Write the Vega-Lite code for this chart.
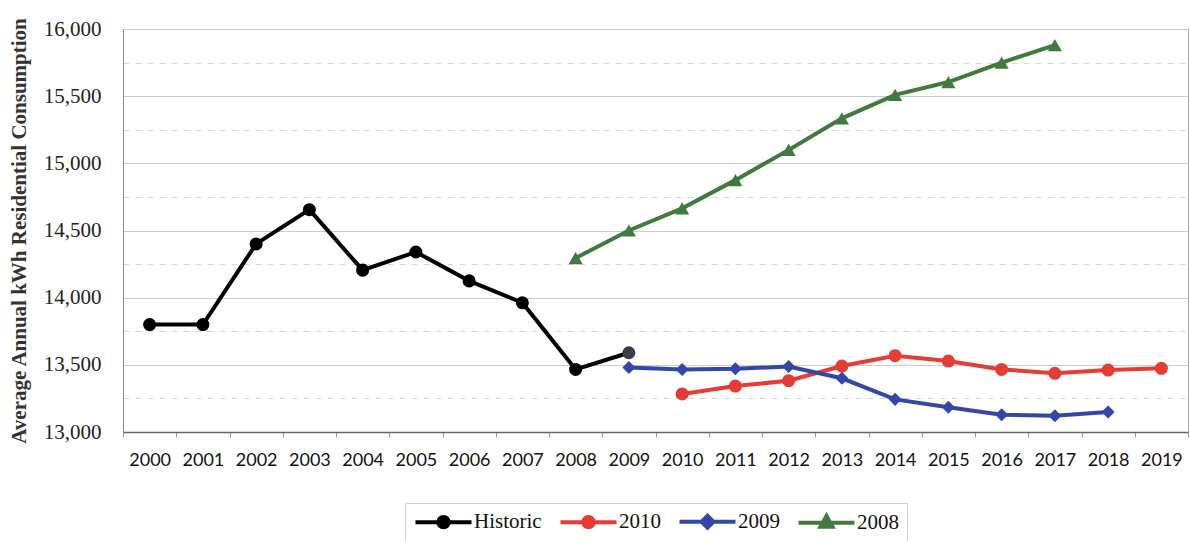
{
  "$schema": "https://vega.github.io/schema/vega-lite/v6.json",
  "width": 1065,
  "height": 403,
  "autosize": {"type": "none"},
  "padding": {"left": 123, "top": 29, "right": 2, "bottom": 109},
  "background": "white",
  "config": {
    "view": {"stroke": "#a8a8a8", "strokeWidth": 1},
    "font": "Liberation Serif"
  },
  "data": {
    "values": [
      {"series": "Historic", "year": 2000, "value": 13800},
      {"series": "Historic", "year": 2001, "value": 13800},
      {"series": "Historic", "year": 2002, "value": 14400},
      {"series": "Historic", "year": 2003, "value": 14655},
      {"series": "Historic", "year": 2004, "value": 14205},
      {"series": "Historic", "year": 2005, "value": 14340},
      {"series": "Historic", "year": 2006, "value": 14125},
      {"series": "Historic", "year": 2007, "value": 13962},
      {"series": "Historic", "year": 2008, "value": 13466},
      {"series": "Historic", "year": 2009, "value": 13590},
      {"series": "2010", "year": 2010, "value": 13283},
      {"series": "2010", "year": 2011, "value": 13342},
      {"series": "2010", "year": 2012, "value": 13382},
      {"series": "2010", "year": 2013, "value": 13491},
      {"series": "2010", "year": 2014, "value": 13568},
      {"series": "2010", "year": 2015, "value": 13528},
      {"series": "2010", "year": 2016, "value": 13466},
      {"series": "2010", "year": 2017, "value": 13437},
      {"series": "2010", "year": 2018, "value": 13461},
      {"series": "2010", "year": 2019, "value": 13474},
      {"series": "2009", "year": 2009, "value": 13480},
      {"series": "2009", "year": 2010, "value": 13466},
      {"series": "2009", "year": 2011, "value": 13471},
      {"series": "2009", "year": 2012, "value": 13487},
      {"series": "2009", "year": 2013, "value": 13400},
      {"series": "2009", "year": 2014, "value": 13243},
      {"series": "2009", "year": 2015, "value": 13184},
      {"series": "2009", "year": 2016, "value": 13129},
      {"series": "2009", "year": 2017, "value": 13121},
      {"series": "2009", "year": 2018, "value": 13149},
      {"series": "2008", "year": 2008, "value": 14295},
      {"series": "2008", "year": 2009, "value": 14500},
      {"series": "2008", "year": 2010, "value": 14665},
      {"series": "2008", "year": 2011, "value": 14875},
      {"series": "2008", "year": 2012, "value": 15100},
      {"series": "2008", "year": 2013, "value": 15335},
      {"series": "2008", "year": 2014, "value": 15510},
      {"series": "2008", "year": 2015, "value": 15605},
      {"series": "2008", "year": 2016, "value": 15750},
      {"series": "2008", "year": 2017, "value": 15880}
    ]
  },
  "encoding": {
    "x": {
      "field": "year",
      "type": "ordinal",
      "bandPosition": 0.5,
      "scale": {
        "type": "band",
        "domain": [2000, 2001, 2002, 2003, 2004, 2005, 2006, 2007, 2008, 2009, 2010, 2011, 2012, 2013, 2014, 2015, 2016, 2017, 2018, 2019],
        "paddingInner": 0,
        "paddingOuter": 0
      },
      "axis": {
        "title": null,
        "labelAngle": 0,
        "labelFont": "Lato",
        "labelFontSize": 18,
        "labelColor": "#111",
        "labelPadding": 14,
        "tickBand": "extent",
        "tickSize": 5,
        "tickColor": "#999",
        "domainColor": "#666",
        "domainWidth": 1.5,
        "grid": false
      }
    },
    "y": {
      "field": "value",
      "type": "quantitative",
      "scale": {"domain": [13000, 16000], "nice": false, "zero": false},
      "axis": {
        "title": "Average Annual kWh Residential Consumption",
        "titleFont": "Liberation Serif",
        "titleFontSize": 21,
        "titleFontWeight": "bold",
        "titleColor": "#333",
        "titlePadding": 14,
        "values": [13000, 13250, 13500, 13750, 14000, 14250, 14500, 14750, 15000, 15250, 15500, 15750, 16000],
        "format": ",.0f",
        "labelExpr": "datum.value % 500 === 0 ? datum.label : ''",
        "labelFont": "Liberation Serif",
        "labelFontSize": 21,
        "labelColor": "#222",
        "labelPadding": 22,
        "ticks": false,
        "domainColor": "#888",
        "grid": true,
        "gridColor": {"condition": {"test": "datum.value % 500 !== 0", "value": "#d6d6d6"}, "value": "#cccccc"},
        "gridDash": {"condition": {"test": "datum.value % 500 !== 0", "value": [6, 6]}, "value": []},
        "gridWidth": 1.2
      }
    }
  },
  "layer": [
    {
      "transform": [{"filter": "datum.series === 'Historic'"}],
      "layer": [
        {"mark": {"type": "line", "strokeWidth": 4, "color": "#000000"}},
        {
          "mark": {"type": "point", "shape": "circle", "filled": true, "size": 170, "opacity": 1},
          "encoding": {
            "color": {"condition": {"test": "datum.year === 2009", "value": "#3a3d45"}, "value": "#000000"}
          }
        }
      ]
    },
    {
      "transform": [{"filter": "datum.series === '2010'"}],
      "layer": [
        {"mark": {"type": "line", "strokeWidth": 4, "color": "#e63c36"}},
        {"mark": {"type": "point", "shape": "circle", "filled": true, "size": 170, "opacity": 1, "color": "#e63c36"}}
      ]
    },
    {
      "transform": [{"filter": "datum.series === '2009'"}],
      "layer": [
        {"mark": {"type": "line", "strokeWidth": 4, "color": "#3347a8"}},
        {"mark": {"type": "point", "shape": "diamond", "filled": true, "size": 170, "opacity": 1, "color": "#3347a8"}}
      ]
    },
    {
      "transform": [{"filter": "datum.series === '2008'"}],
      "layer": [
        {"mark": {"type": "line", "strokeWidth": 4, "color": "#417a3f"}},
        {"mark": {"type": "point", "shape": "triangle-up", "filled": true, "size": 200, "opacity": 1, "color": "#417a3f"}}
      ]
    },
    {
      "transform": [{"filter": "datum.value < 0"}],
      "mark": {"type": "point", "filled": true, "opacity": 1},
      "encoding": {
        "color": {
          "field": "series",
          "type": "nominal",
          "scale": {"domain": ["Historic", "2010", "2009", "2008"], "range": ["#000000", "#e63c36", "#3347a8", "#417a3f"]},
          "legend": {
            "title": null,
            "orient": "none",
            "direction": "horizontal",
            "legendX": 282,
            "legendY": 474,
            "padding": 8,
            "strokeColor": "#cfcfcf",
            "fillColor": "white",
            "symbolSize": 256,
            "symbolStrokeWidth": 4,
            "labelFont": "Liberation Serif",
            "labelFontSize": 21,
            "labelColor": "#111",
            "labelOffset": 40,
            "columnPadding": 10
          }
        },
        "stroke": {
          "field": "series",
          "type": "nominal",
          "scale": {"domain": ["Historic", "2010", "2009", "2008"], "range": ["#000000", "#e63c36", "#3347a8", "#417a3f"]},
          "legend": {
            "title": null,
            "orient": "none",
            "direction": "horizontal",
            "legendX": 282,
            "legendY": 474,
            "padding": 8,
            "strokeColor": "#cfcfcf",
            "fillColor": "white",
            "symbolSize": 256,
            "symbolStrokeWidth": 4,
            "labelFont": "Liberation Serif",
            "labelFontSize": 21,
            "labelColor": "#111",
            "labelOffset": 40,
            "columnPadding": 10
          }
        },
        "shape": {
          "field": "series",
          "type": "nominal",
          "scale": {
            "domain": ["Historic", "2010", "2009", "2008"],
            "range": [
              "M-1,0H6M1.85,0A0.65,0.65 0 1,0 3.15,0A0.65,0.65 0 1,0 1.85,0Z",
              "M-1,0H6M1.85,0A0.65,0.65 0 1,0 3.15,0A0.65,0.65 0 1,0 1.85,0Z",
              "M-1,0H6M2.5,-0.75L3.25,0L2.5,0.75L1.75,0Z",
              "M-1,0H6M2.5,-0.85L3.25,0.5L1.75,0.5Z"
            ]
          },
          "legend": {
            "title": null,
            "orient": "none",
            "direction": "horizontal",
            "legendX": 282,
            "legendY": 474,
            "padding": 8,
            "strokeColor": "#cfcfcf",
            "fillColor": "white",
            "symbolSize": 256,
            "symbolStrokeWidth": 4,
            "labelFont": "Liberation Serif",
            "labelFontSize": 21,
            "labelColor": "#111",
            "labelOffset": 40,
            "columnPadding": 10
          }
        }
      }
    }
  ]
}
